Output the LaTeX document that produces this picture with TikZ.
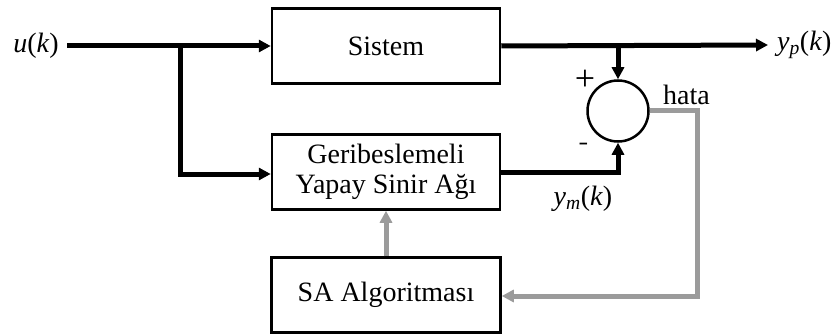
\documentclass[tikz,border=0pt]{standalone}
\usepackage{fontspec}
\setmainfont{Liberation Serif}
\usetikzlibrary{arrows.meta}
\definecolor{gr}{RGB}{155,155,155}
\begin{document}
\begin{tikzpicture}[x=1pt,y=-1pt,
  font=\fontsize{28}{32}\selectfont,
  blk/.style={draw, line width=2.5pt, minimum width=228pt, minimum height=75pt, inner sep=0pt, align=center},
  wire/.style={line width=5pt, line join=miter},
  sig/.style={wire, -{Triangle[length=12pt,width=12pt]}},
  gsig/.style={sig, draw=gr, color=gr},
  lbl/.style={inner sep=2pt}
]
\useasboundingbox (0,0) rectangle (835,334);
\node[blk] (sys) at (386,46) {Sistem};
\node[blk] (nn) at (386,172) {Geribeslemeli\\[-2pt]Yapay Sinir Ağı};
\node[blk, minimum width=229pt] (sa) at (386,295) {SA Algoritması};
\node[draw, circle, line width=2.5pt, minimum size=61pt, inner sep=0pt] (sum) at (618,111) {};
\node[lbl, inner xsep=8pt, anchor=east] (uk) at (67,46) {\textit{u}(\textit{k})};
\node[lbl, inner xsep=9pt, anchor=west] (yp) at (768,45) {\textit{y}\textsubscript{\textit{p}}(\textit{k})};
\node[lbl, font=\fontsize{36}{36}\selectfont] (plus) at (585,80) {+};
\node[lbl, font=\fontsize{30}{30}\sffamily\selectfont] (minus) at (584,147) {-};
\node[lbl, anchor=west] (hata) at (661,95) {hata};
\node[lbl] (ym) at (583,199) {\textit{y}\textsubscript{\textit{m}}(\textit{k})};
\coordinate (jn) at (180,46);
\coordinate (c2) at (697,296);
\draw[wire] (uk.east) -- (jn);
\draw[sig] (jn) -- (sys.west);
\draw[sig] ([yshift=2.5pt]jn) |- ([yshift=-2pt]nn.west);
\draw[sig] (sys.east) -- (yp.west);
\draw[sig] (sum |- sys.east) -- (sum.north);
\draw[sig] (nn.east) -| (sum.south);
\draw[gsig] (sum.east) -| (c2) -- (sa.east |- c2);
\draw[gsig] (sa.north) -- (nn.south);
\end{tikzpicture}
\end{document}
